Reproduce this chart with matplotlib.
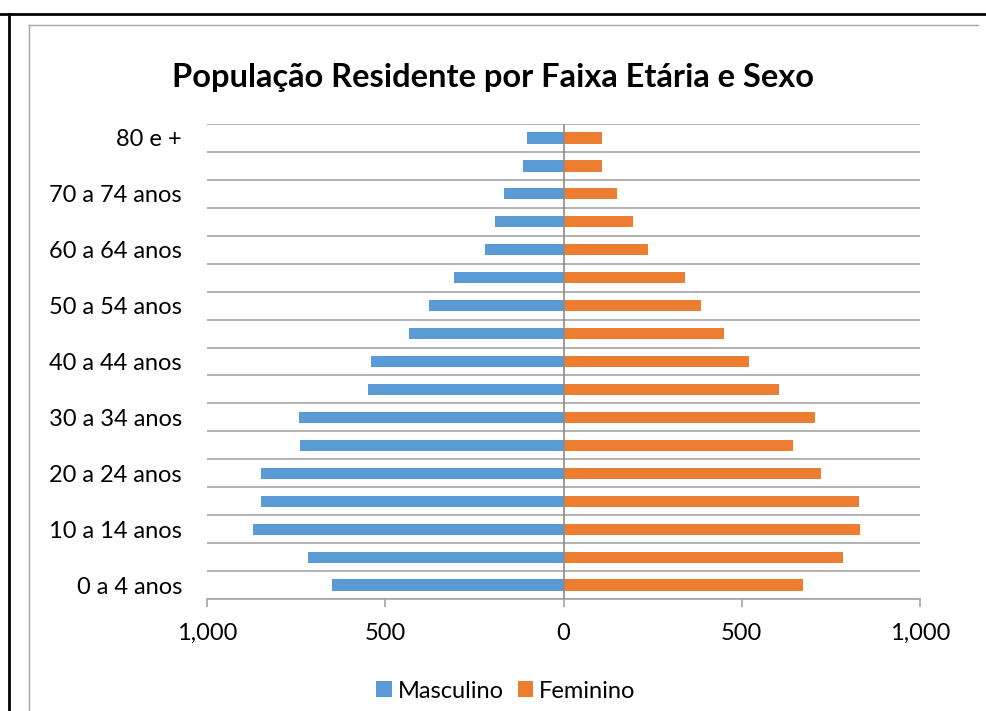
import matplotlib.pyplot as plt
from matplotlib.lines import Line2D
from matplotlib.ticker import FuncFormatter

# age groups, bottom to top
faixas = ['0 a 4 anos', '5 a 9 anos', '10 a 14 anos', '15 a 19 anos',
          '20 a 24 anos', '25 a 29 anos', '30 a 34 anos', '35 a 39 anos',
          '40 a 44 anos', '45 a 49 anos', '50 a 54 anos', '55 a 59 anos',
          '60 a 64 anos', '65 a 69 anos', '70 a 74 anos', '75 a 79 anos',
          '80 e +']
masculino = [650, 717, 872, 849, 849, 739, 741, 549, 539, 433, 378, 308,
             220, 192, 168, 114, 101]
feminino = [671, 785, 833, 828, 721, 643, 705, 604, 519, 451, 387, 340,
            238, 195, 149, 107, 107]

BLUE = '#5B9BD5'
ORANGE = '#ED7D31'
GRID = '#A6A6A6'

plt.rcParams['font.family'] = ['Lato', 'DejaVu Sans']

fig = plt.figure(figsize=(9.86, 7.11), dpi=100)
ax = fig.add_axes([207 / 986, 1 - 599 / 711, 713 / 986, 475 / 711])

pos = list(range(len(faixas)))
ax.barh(pos, [-v for v in masculino], height=0.4, color=BLUE, label='Masculino')
ax.barh(pos, feminino, height=0.4, color=ORANGE, label='Feminino')

ax.set_xlim(-1000, 1000)
ax.set_ylim(-0.5, len(faixas) - 0.5)

# gridlines between categories
ax.set_yticks([p - 0.5 for p in pos] + [len(faixas) - 0.5], minor=True)
ax.grid(True, which='minor', axis='y', color=GRID, linewidth=1.2)
ax.set_axisbelow(True)
ax.axvline(0, color='#8C8C8C', linewidth=1.2, zorder=3)

ax.set_yticks(pos[::2])
ax.set_yticklabels(faixas[::2], fontsize=17)
ax.tick_params(axis='y', which='both', length=0, pad=18)

ax.set_xticks([-1000, -500, 0, 500, 1000])
ax.xaxis.set_major_formatter(FuncFormatter(lambda v, p: f'{abs(int(v)):,}'))
ax.tick_params(axis='x', length=6, width=1.2, color=GRID, labelsize=17, pad=11)

for side in ['top', 'right', 'left']:
    ax.spines[side].set_visible(False)
ax.spines['bottom'].set_color(GRID)
ax.spines['bottom'].set_linewidth(1.2)

fig.text(0.5, 1 - 77 / 711, 'População Residente por Faixa Etária e Sexo',
         ha='center', va='center', fontsize=23.5, fontweight='bold')

fig.legend(loc='center', bbox_to_anchor=(0.513, 1 - 691 / 711), ncol=2,
           frameon=False, fontsize=17, handlelength=0.65, handleheight=0.65,
           handletextpad=0.25, columnspacing=0.6)

# outer and inner borders
W, H = 986, 711
fig.add_artist(Line2D([0, 1], [1 - 14 / H] * 2, color='black', lw=2, transform=fig.transFigure))
fig.add_artist(Line2D([9 / W] * 2, [0, 1 - 14 / H], color='black', lw=2, transform=fig.transFigure))
fig.add_artist(Line2D([29 / W, 978 / W], [1 - 25 / H] * 2, color=GRID, lw=1, transform=fig.transFigure))
fig.add_artist(Line2D([29 / W] * 2, [0, 1 - 25 / H], color=GRID, lw=1, transform=fig.transFigure))

fig.savefig('out.png', dpi=100)
